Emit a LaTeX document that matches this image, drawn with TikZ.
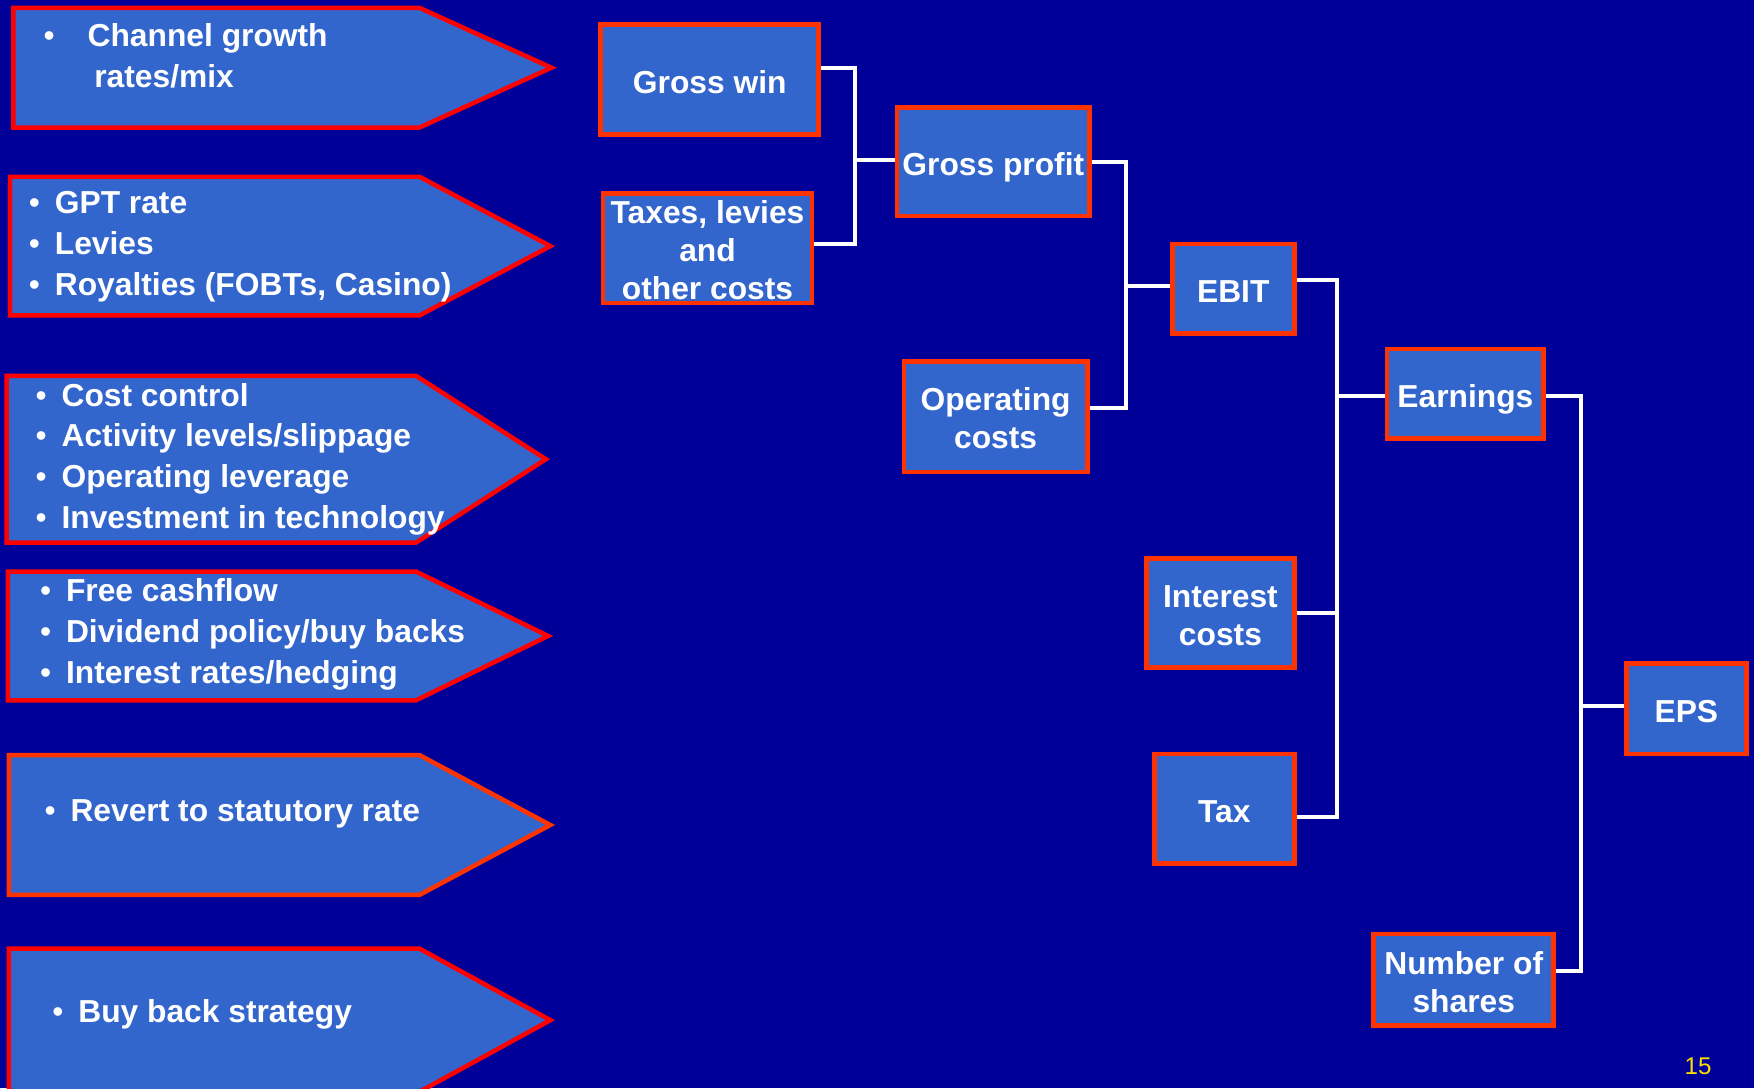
\documentclass[tikz,border=0pt]{standalone}
\usepackage{fontspec}
\setmainfont{Liberation Sans}
\definecolor{bg}{RGB}{0,0,153}
\definecolor{boxblue}{RGB}{51,102,204}
\definecolor{boxred}{RGB}{255,51,0}
\definecolor{pgyellow}{RGB}{250,222,0}
\newcommand\blist[2]{\begin{tabular}[t]{@{}l@{\hspace{#1}}l@{}}#2\end{tabular}}
\newcommand\bu{{\mdseries •}}
\begin{document}
\begin{tikzpicture}[x=0.5pt,y=-0.5pt,
  box/.style={draw=boxred, line width=2.1pt, fill=boxblue, text=white, inner sep=0pt, align=center, font=\fontsize{14.2}{17}\selectfont\bfseries},
  one/.style={text height=12.2pt, text depth=0pt},
  wh/.style 2 args={minimum width=#1*0.5pt, minimum height=#2*0.5pt},
  arr/.style={draw=red, line width=2pt, fill=boxblue, line join=miter},
  arro/.style={arr, draw=boxred},
  lst/.style={anchor=base west, inner sep=0pt, text=white, font=\fontsize{14.2}{18.2}\selectfont\bfseries},
  conn/.style={draw=white, line width=1.8pt, line join=miter}]
\useasboundingbox (0,0) rectangle (1568,973);
\clip (0,0) rectangle (1568,973);
\fill[bg] (0,0) rectangle (1568,973);

% left arrows
\draw[arr] (12,7) -- (375,7) -- (493,60.5) -- (375,114) -- (12,114) -- cycle;
\draw[arr] (9,158) -- (375,158) -- (492,220) -- (375,282) -- (9,282) -- cycle;
\draw[arr] (6,336) -- (372,336) -- (488,410.5) -- (372,485) -- (6,485) -- cycle;
\draw[arr] (7,511) -- (372,511) -- (490,568.5) -- (372,626) -- (7,626) -- cycle;
\draw[arro] (8,675) -- (375,675) -- (492,737.5) -- (375,800) -- (8,800) -- cycle;
\draw[arr] (8,848) -- (375,848) -- (492,912) -- (375,976) -- (8,976) -- cycle;

\node[lst] (t1) at (38.5,42) {\blist{14.75pt}{\bu & Channel growth\\ & \hspace{3pt}rates/mix}};
\node[lst] (t2) at (25.5,191) {\blist{6.6pt}{\bu & GPT rate\\ \bu & Levies\\ \bu & Royalties (FOBTs, Casino)}};
\node[lst] (t3) at (31.5,363) {\blist{6.6pt}{\bu & Cost control\\ \bu & Activity levels/slippage\\ \bu & Operating leverage\\ \bu & Investment in technology}};
\node[lst] (t4) at (35.5,538) {\blist{6.6pt}{\bu & Free cashflow\\ \bu & Dividend policy/buy backs\\ \bu & Interest rates/hedging}};
\node[lst] (t5) at (39.5,734) {\blist{6.6pt}{\bu & Revert to statutory rate}};
\node[lst] (t6) at (46.5,914) {\blist{6.6pt}{\bu & Buy back strategy}};

% junctions
\coordinate (j1) at (764,143);
\coordinate (j2) at (1007,256);
\coordinate (j3) at (1195,354);
\coordinate (j4) at (1413,631);

% boxes
\path
  node[box, one, wh={195}{98}] (gw) at (634.5,71) {Gross win}
  node[box, wh={187}{98}] (tx) at (632.5,222) {\rule{0pt}{12pt}Taxes, levies\\and\\other costs}
  node[box, one, wh={172}{97}] (gp) at (888,144.5) {Gross profit}
  node[box, wh={164}{99}] (oc) at (890,372.5) {\rule{0pt}{12pt}Operating\\costs}
  node[box, one, wh={109}{80}] (ebit) at (1102.5,258) {EBIT}
  node[box, one, wh={140}{80}] (earn) at (1310,352) {Earnings}
  node[box, wh={132}{98}] (ic) at (1091,548) {\rule{0pt}{12pt}Interest\\costs}
  node[box, one, wh={125}{98}] (tax) at (1094.5,723) {Tax}
  node[box, one, wh={107}{81}] (eps) at (1507.5,633.5) {EPS}
  node[box, wh={161}{82}] (ns) at (1308.5,876) {\rule{0pt}{12pt}Number of\\shares};

% connectors
\draw[conn] ([yshift=5pt]gw.east) -| (j1) |- ([yshift=2pt]tx.east);
\draw[conn] (j1) -- (j1 -| gp.west);
\draw[conn] (gp.east) -| (j2) |- ([yshift=3.75pt]oc.east);
\draw[conn] (j2) -- (j2 -| ebit.west);
\draw[conn] ([yshift=4pt]ebit.east) -| (j3) |- ([yshift=-3.5pt]tax.east);
\draw[conn] (j3) -- (j3 -| earn.west);
\draw[conn] (ic.east) -- (ic.east -| j3);
\draw[conn] ([yshift=-1pt]earn.east) -| (j4) |- ([yshift=4pt]ns.east);
\draw[conn] (j4) -- (j4 -| eps.west);

\node[text=pgyellow, font=\fontsize{10.8}{12}\selectfont, inner sep=0pt] (pg) at (1518,953) {15};
\end{tikzpicture}
\end{document}
